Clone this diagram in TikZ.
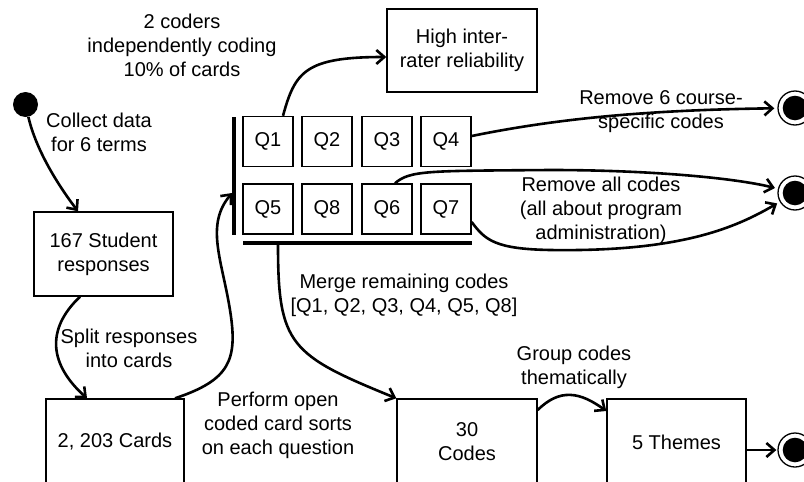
\documentclass[tikz,border=0pt]{standalone}
\usepackage{fontspec}
\setmainfont{Liberation Sans}
\usetikzlibrary{arrows.meta}
\begin{document}
\begin{tikzpicture}[x=1pt,y=-1pt,
  txt/.style={font=\fontsize{20}{24}\selectfont},
  box/.style={txt, draw, line width=1.4pt, inner sep=0pt, align=center},
  qbox/.style={box, minimum width=50pt, minimum height=50pt},
  lbl/.style={txt, align=center, inner sep=0pt},
  bar/.style={fill=black, inner sep=0pt},
  conn/.style={line width=2.6pt, -{Straight Barb[length=8pt,width=14pt]}, line join=round},
  endst/.style={circle, draw, fill=white, line width=1.3pt, minimum size=34pt, inner sep=0pt,
    path picture={\fill[black] (path picture bounding box.center) circle (12.3pt);}},
]
\useasboundingbox (0,0) rectangle (804,482);

% states
\node[circle, fill=black, minimum size=25pt, inner sep=0pt] (s) at (25.5,104.5) {};
\node[endst] (e1) at (795,108) {};
\node[endst] (e2) at (795,193) {};
\node[endst] (e3) at (795,450) {};

% boxes
\node[box, minimum width=139pt, minimum height=84pt] (resp) at (103.5,254) {167 Student\\responses};
\node[box, minimum width=138pt, minimum height=86pt] (cards) at (115,442) {2, 203 Cards};
\node[box, minimum width=140pt, minimum height=86pt] (codes) at (467,442) {30\\Codes};
\node[box, minimum width=139pt, minimum height=86pt] (themes) at (676.5,442) {5 Themes};
\node[box, minimum width=150pt, minimum height=83pt] (high) at (462,50.5) {High inter-\\rater reliability};

% question matrix
\node[qbox] (q1) at (268,141.5) {Q1};
\node[qbox] (q2) at (327,141.5) {Q2};
\node[qbox] (q3) at (387,141.5) {Q3};
\node[qbox] (q4) at (446,141.5) {Q4};
\node[qbox] (q5) at (268,209) {Q5};
\node[qbox] (q8) at (327,209) {Q8};
\node[qbox] (q6) at (387,209) {Q6};
\node[qbox] (q7) at (446,209) {Q7};
\node[bar, minimum width=3.3pt, minimum height=118pt] (barL) at (234,176) {};
\node[bar, minimum width=229pt, minimum height=3.3pt] (barB) at (357.5,243) {};

% labels
\node[lbl] (l1) at (99,132) {Collect data\\for 6 terms};
\node[lbl] (l2) at (129,348) {Split responses\\into cards};
\node[lbl] (l3) at (278,425) {Perform open\\coded card sorts\\on each question};
\node[lbl] (l4) at (182,45) {2 coders\\independently coding\\10\% of cards};
\node[lbl] (l5) at (661,112) {Remove 6 course-\\specific codes};
\node[lbl] (l6) at (601,210) {Remove all codes\\(all about program\\administration)};
\node[lbl] (l7) at (404,295) {Merge remaining codes\\{}[Q1, Q2, Q3, Q4, Q5, Q8]};
\node[lbl] (l8) at (574,367) {Group codes\\thematically};

% connectors
\draw[conn] (s) .. controls (36,150) and (58,185) .. ([xshift=-25.5pt]resp.north);
\draw[conn] ([xshift=-23.5pt]resp.south) .. controls (45,330) and (50,365) .. ([xshift=-28pt]cards.north);
\draw[conn] ([xshift=60pt]cards.north) .. controls (230,380) and (238,360) .. (230,310)
   .. controls (222,260) and (205,225) .. ([yshift=-17pt]barL.west);
\draw[conn] ([xshift=15pt]q1.north) .. controls (295,72) and (305,57) .. ([yshift=-6.5pt]high.west);
\draw[conn, shorten >=3pt] ([yshift=5.5pt]q4.east) .. controls (560,118) and (650,110) .. (e1);
\draw[conn, shorten >=3pt] ([xshift=8pt]q6.north) .. controls (410,170) and (430,171) .. (550,170)
   .. controls (650,170) and (735,178) .. (e2);
\draw[conn, shorten >=3pt] ([yshift=-13pt]q7.east) .. controls (485,240) and (495,249) .. (550,250)
   .. controls (680,252) and (735,228) .. (e2);
\draw[conn] ([xshift=-79.5pt]barB.south) .. controls (278,345) and (290,355) .. (codes.north west);
\draw[conn] ([yshift=32pt]codes.east) .. controls (560,388) and (580,392) .. ([yshift=31pt]themes.west);
\draw[conn, shorten >=1pt] (themes.east |- e3) -- (e3);
\end{tikzpicture}
\end{document}
